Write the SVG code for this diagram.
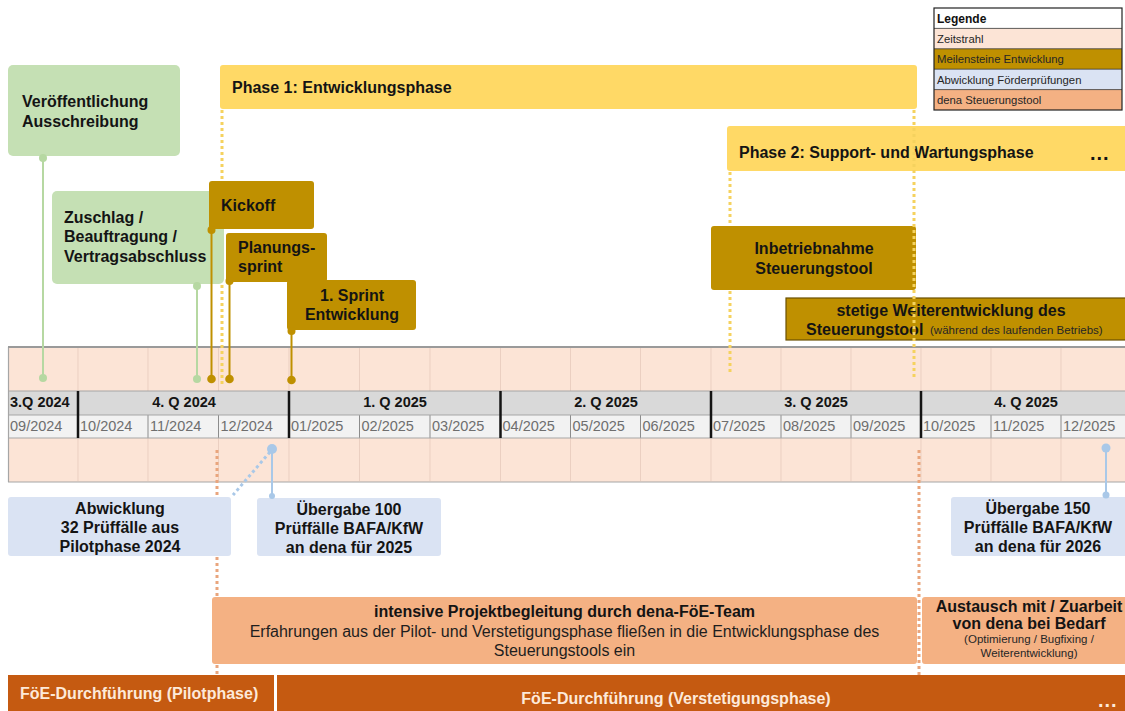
<svg xmlns="http://www.w3.org/2000/svg" width="1125" height="711" viewBox="0 0 1125 711">
<style>
text{font-family:"Liberation Sans",Arial,sans-serif;}
.b{font-weight:bold;font-size:16px;fill:#141414;}
.c{text-anchor:middle;}
.q{font-weight:bold;font-size:14.5px;fill:#141414;}
.m{font-size:14.5px;fill:#6e6e6e;}
.s{font-size:11.5px;fill:#262626;}
.r{font-size:16px;fill:#1e1e1e;}
.lg{font-size:11.3px;fill:#262626;}
.w{font-weight:bold;font-size:16px;fill:#fde9d9;}
.dots{font-weight:bold;font-size:20px;letter-spacing:1px;}
.green{fill:#c5e0b4;}
.gold{fill:#bf9000;}
.yel{fill:#ffd966;}
.blue{fill:#dae3f3;}
.ora{fill:#f4b183;}
.dark{fill:#c55a11;}
.gl{stroke:#b6d8a2;stroke-width:2;}
.gd{fill:#b6d8a2;}
.kl{stroke:#bf9000;stroke-width:2;}
.kd{fill:#bf9000;}
.bl{stroke:#a9c8e8;stroke-width:2;}
.bd{fill:#a9c8e8;}
.ydot{stroke:#f5d25e;stroke-width:3;stroke-dasharray:3 3;fill:none;}
.odot{stroke:#e9a57d;stroke-width:3;stroke-dasharray:3 3;fill:none;}
.bdot{stroke:#a9c8e8;stroke-width:3;stroke-dasharray:3 3;fill:none;}
.grid{stroke:#ebcfc1;stroke-width:1;}
.ml{stroke:#8c8c8c;stroke-width:1;}
.ql{stroke:#141414;stroke-width:2.5;}
.hl{stroke:#a6a6a6;stroke-width:1.2;}
</style>

<g id="legend">
<rect x="934" y="8" width="188" height="20.4" fill="#ffffff"/>
<rect x="934" y="28.4" width="188" height="20.4" fill="#fce4d6"/>
<rect x="934" y="48.8" width="188" height="20.4" fill="#bf9000"/>
<rect x="934" y="69.2" width="188" height="20.4" fill="#dae3f3"/>
<rect x="934" y="89.6" width="188" height="20.4" fill="#f4b183"/>
<g stroke="#333" stroke-width="0.8">
<line x1="934" y1="28.4" x2="1122" y2="28.4"/>
<line x1="934" y1="48.8" x2="1122" y2="48.8"/>
<line x1="934" y1="69.2" x2="1122" y2="69.2"/>
<line x1="934" y1="89.6" x2="1122" y2="89.6"/>
</g>
<rect x="934" y="8" width="188" height="102" fill="none" stroke="#222" stroke-width="1.2"/>
<text x="937" y="22.5" font-size="12" font-weight="bold" fill="#111">Legende</text>
<text class="lg" x="937" y="42.5">Zeitstrahl</text>
<text class="lg" x="937" y="63" fill="#3b2a00">Meilensteine Entwicklung</text>
<text class="lg" x="937" y="83.5">Abwicklung Förderprüfungen</text>
<text class="lg" x="937" y="104">dena Steuerungstool</text>
</g>

<g id="timeline">
<rect x="8" y="347" width="1130" height="135" fill="#fce4d6"/>
<rect x="8" y="391" width="1130" height="24" fill="#d9d9d9"/>
<rect x="8" y="415" width="1130" height="23" fill="#f2f2f2"/>
<g class="grid">
<path d="M78 348V391M148 348V391M218.5 348V391M289 348V391M359.5 348V391M430 348V391M500.5 348V391M570.5 348V391M640.5 348V391M711 348V391M781 348V391M851 348V391M921 348V391M991 348V391M1061 348V391"/>
<path d="M78 438V481M148 438V481M218.5 438V481M289 438V481M359.5 438V481M430 438V481M500.5 438V481M570.5 438V481M640.5 438V481M711 438V481M781 438V481M851 438V481M921 438V481M991 438V481M1061 438V481"/>
</g>
<path class="ml" d="M148 415V438M218.5 415V438M359.5 415V438M430 415V438M570.5 415V438M640.5 415V438M781 415V438M851 415V438M991 415V438M1061 415V438"/>
<path class="hl" d="M8 391H1125M8 415H1125M8 438H1125M8 482H1125M8.5 347V482" fill="none"/>
<path d="M8 347H1125" stroke="#9a9a9a" stroke-width="2"/>
<path class="ql" d="M78 391V438M289 391V438M500.5 391V438M711 391V438M921 391V438"/>
<text class="q" x="10" y="407">3.Q 2024</text>
<text class="q c" x="184" y="407">4. Q 2024</text>
<text class="q c" x="395" y="407">1. Q 2025</text>
<text class="q c" x="606" y="407">2. Q 2025</text>
<text class="q c" x="816" y="407">3. Q 2025</text>
<text class="q c" x="1026" y="407">4. Q 2025</text>
<text class="m" x="10" y="431">09/2024</text>
<text class="m" x="80" y="431">10/2024</text>
<text class="m" x="150" y="431">11/2024</text>
<text class="m" x="220.5" y="431">12/2024</text>
<text class="m" x="291" y="431">01/2025</text>
<text class="m" x="361.5" y="431">02/2025</text>
<text class="m" x="432" y="431">03/2025</text>
<text class="m" x="502.5" y="431">04/2025</text>
<text class="m" x="572.5" y="431">05/2025</text>
<text class="m" x="642.5" y="431">06/2025</text>
<text class="m" x="713" y="431">07/2025</text>
<text class="m" x="783" y="431">08/2025</text>
<text class="m" x="853" y="431">09/2025</text>
<text class="m" x="923" y="431">10/2025</text>
<text class="m" x="993" y="431">11/2025</text>
<text class="m" x="1063" y="431">12/2025</text>
</g>

<g id="phase1">
<rect class="yel" x="220" y="65" width="697" height="44" rx="3"/>
<text class="b" x="232" y="93">Phase 1: Entwicklungsphase</text>
</g>

<g id="phase2">
<rect class="yel" x="727" y="126" width="405" height="45" rx="3"/>
<text class="b" x="739" y="158">Phase 2: Support- und Wartungsphase</text>
<text class="dots" x="1090" y="160" fill="#141414">...</text>
</g>

<g id="n-veroeffentlichung">
<rect class="green" x="8" y="65" width="172" height="91" rx="5"/>
<text class="b" x="22" y="107">Veröffentlichung</text>
<text class="b" x="22" y="127">Ausschreibung</text>
</g>

<g id="n-zuschlag">
<rect class="green" x="52" y="191" width="172" height="93" rx="5"/>
<text class="b" x="64" y="223">Zuschlag /</text>
<text class="b" x="64" y="242">Beauftragung /</text>
<text class="b" x="64" y="262">Vertragsabschluss</text>
</g>

<g id="n-kickoff">
<rect class="gold" x="209" y="181" width="105" height="48" rx="3"/>
<text class="b" x="221" y="211">Kickoff</text>
</g>

<g id="n-planungssprint">
<rect class="gold" x="226" y="233" width="101" height="49" rx="3"/>
<text class="b" x="238" y="253">Planungs-</text>
<text class="b" x="238" y="272">sprint</text>
</g>

<g id="n-sprint1">
<rect class="gold" x="287" y="280" width="129" height="50" rx="3"/>
<text class="b c" x="352" y="301">1. Sprint</text>
<text class="b c" x="352" y="320">Entwicklung</text>
</g>

<g id="n-inbetriebnahme">
<rect class="gold" x="711" y="226" width="205" height="64" rx="3"/>
<text class="b c" x="814" y="254">Inbetriebnahme</text>
<text class="b c" x="814" y="274">Steuerungstool</text>
</g>

<g id="n-weiterentwicklung">
<rect class="gold" x="786" y="298" width="345" height="42" stroke="#6b5000" stroke-width="1.2"/>
<text class="b c" x="951" y="316">stetige Weiterentwicklung des</text>
<text class="b" x="806" y="335">Steuerungstool</text>
<text class="s" x="930" y="334">(während des laufenden Betriebs)</text>
</g>

<g id="n-abwicklung">
<rect class="blue" x="8" y="497" width="223" height="59" rx="3"/>
<text class="b c" x="120" y="514">Abwicklung</text>
<text class="b c" x="120" y="533">32 Prüffälle aus</text>
<text class="b c" x="120" y="552">Pilotphase 2024</text>
</g>

<g id="n-uebergabe100">
<rect class="blue" x="257" y="498" width="184" height="58" rx="3"/>
<text class="b c" x="349" y="515">Übergabe 100</text>
<text class="b c" x="349" y="534">Prüffälle BAFA/KfW</text>
<text class="b c" x="349" y="553">an dena für 2025</text>
</g>

<g id="n-uebergabe150">
<rect class="blue" x="951" y="497" width="180" height="59" rx="3"/>
<text class="b c" x="1038" y="514">Übergabe 150</text>
<text class="b c" x="1038" y="533">Prüffälle BAFA/KfW</text>
<text class="b c" x="1038" y="552">an dena für 2026</text>
</g>

<g id="n-projektbegleitung">
<rect class="ora" x="212" y="597" width="705" height="67" rx="3"/>
<text class="b c" x="564.5" y="617">intensive Projektbegleitung durch dena-FöE-Team</text>
<text class="r c" x="564.5" y="637">Erfahrungen aus der Pilot- und Verstetigungsphase fließen in die Entwicklungsphase des</text>
<text class="r c" x="564.5" y="656">Steuerungstools ein</text>
</g>

<g id="n-austausch">
<rect class="ora" x="922" y="597" width="210" height="67" rx="3"/>
<text class="b c" x="1029" y="612">Austausch mit / Zuarbeit</text>
<text class="b c" x="1029" y="629">von dena bei Bedarf</text>
<text class="s c" x="1029" y="643">(Optimierung / Bugfixing /</text>
<text class="s c" x="1029" y="657">Weiterentwicklung)</text>
</g>

<g id="n-pilotphase">
<rect class="dark" x="8" y="675" width="266" height="40"/>
<text class="w" x="20" y="699">FöE-Durchführung (Pilotphase)</text>
</g>

<g id="n-verstetigungsphase">
<rect class="dark" x="277" y="675" width="855" height="40"/>
<text class="w c" x="676" y="704">FöE-Durchführung (Verstetigungsphase)</text>
<text class="dots" x="1098" y="707" fill="#fde9d9">...</text>
</g>

<g id="connectors">
<line class="gl" x1="43" y1="157" x2="43" y2="378"/>
<circle class="gd" cx="43" cy="158" r="4"/>
<circle class="gd" cx="43" cy="378" r="4"/>
<line class="gl" x1="197" y1="285" x2="197" y2="379"/>
<circle class="gd" cx="197" cy="286" r="4"/>
<circle class="gd" cx="197" cy="379" r="4"/>
<line class="kl" x1="211.5" y1="230" x2="211.5" y2="379"/>
<circle class="kd" cx="211.5" cy="230" r="4"/>
<circle class="kd" cx="211.5" cy="379" r="4.3"/>
<line class="kl" x1="229.5" y1="281" x2="229.5" y2="379"/>
<circle class="kd" cx="229.5" cy="281" r="4"/>
<circle class="kd" cx="229.5" cy="379" r="4.3"/>
<line class="kl" x1="291.5" y1="331" x2="291.5" y2="380"/>
<circle class="kd" cx="291.5" cy="331" r="4"/>
<circle class="kd" cx="291.5" cy="380" r="4.3"/>
<path class="ydot" d="M222 110V181M222 285V384"/>
<path class="ydot" d="M730 172V226M730 291V372"/>
<path class="ydot" d="M914 110V378"/>
<path class="odot" d="M217 450V497M217 557V596M217 665V676"/>
<path class="odot" d="M919 450V676"/>
<line class="bdot" x1="270" y1="452" x2="233" y2="495"/>
<line class="bl" x1="272" y1="449" x2="272" y2="497"/>
<circle class="bd" cx="272" cy="449" r="5"/>
<circle class="bd" cx="272" cy="496" r="3"/>
<line class="bl" x1="1106" y1="448" x2="1106" y2="495"/>
<circle class="bd" cx="1106" cy="448" r="4.5"/>
<circle class="bd" cx="1106" cy="495" r="3.5"/>
</g>
</svg>
